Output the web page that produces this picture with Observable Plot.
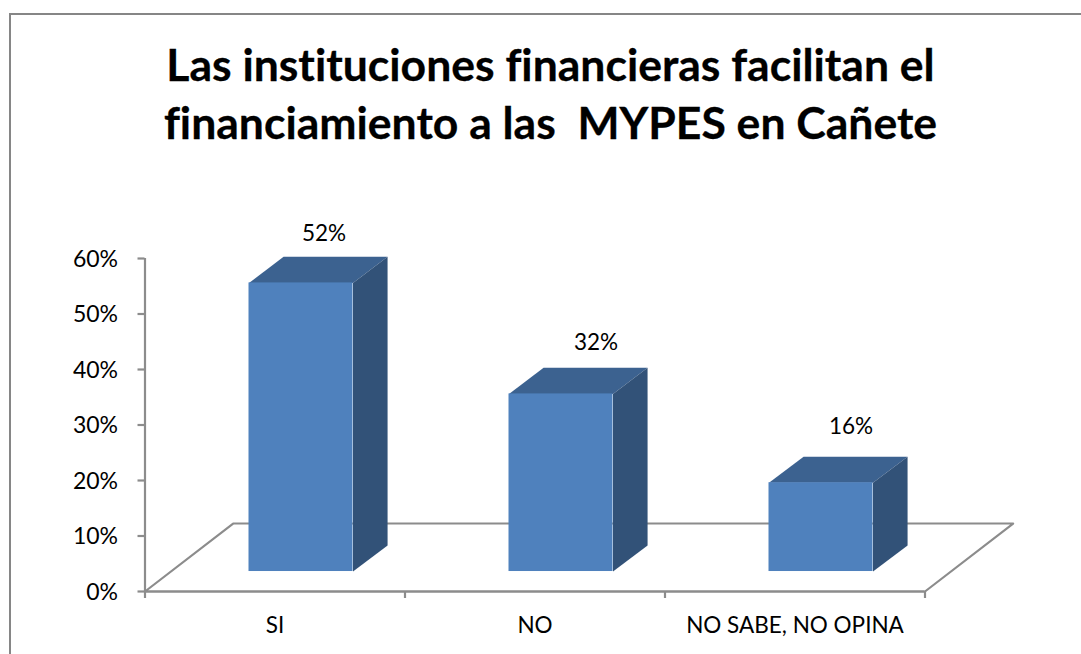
<!DOCTYPE html>
<html>
<head>
<meta charset="utf-8">
<script src="https://cdn.jsdelivr.net/npm/d3@7"></script>
<script src="https://cdn.jsdelivr.net/npm/@observablehq/plot@0.6"></script>
<style>
  html, body { margin: 0; padding: 0; background: #fff; overflow: hidden; }
  #page { position: relative; width: 1081px; height: 654px; overflow: hidden; font-family: Lato, sans-serif; font-variant-ligatures: none; }
  #frame { position: absolute; left: 9px; top: 13px; right: -10px; bottom: -10px; border: 2px solid #868686; }
  #title { position: absolute; left: 0; top: 35px; width: 1101px; text-align: center;
           font: 700 44.5px/58px Lato, sans-serif; color: #000; white-space: pre; font-variant-ligatures: none;
           -webkit-text-stroke: 0.3px #000; }
  #chart { position: absolute; left: 0; top: 190px; }
  #chart svg { display: block; }
</style>
</head>
<body>
<div id="page">
  <div id="frame"></div>
  <div id="title"></div>
  <div id="chart"></div>
</div>
<script>
const titleLines = ["Las instituciones financieras facilitan el", "financiamiento a las  MYPES en Cañete"];
const categories = ["SI", "NO", "NO SABE, NO OPINA"];
const values = [52, 32, 16];
const yTicks = [0, 10, 20, 30, 40, 50, 60];

// 3D projection expressed in scale units (categories on x, percent on y)
const floorDx = 0.339, floorDy = 12.25;
const barLift = 3.6, barShift = 0.1, barW = 0.4, depthDx = 0.133, depthDy = 4.7;
const nudgeX = [23, 35, 30], nudgeY = [-49, -51, -56];

document.getElementById("title").textContent = titleLines.join("\n");

const bars = categories.map((c, i) => {
  const x1 = i + 0.5 - barW / 2 + barShift, x2 = x1 + barW;
  const y1 = barLift, y2 = barLift + values[i];
  return {c, i, x1, x2, y1, y2, mid: (x1 + x2) / 2};
});
const topFace = bars.flatMap(b => [
  [b.x1, b.y2], [b.x1 + depthDx, b.y2 + depthDy], [b.x2 + depthDx, b.y2 + depthDy], [b.x2, b.y2]
].map(([x, y]) => ({x, y, z: b.c})));
const sideFace = bars.flatMap(b => [
  [b.x2, b.y1], [b.x2 + depthDx, b.y1 + depthDy], [b.x2 + depthDx, b.y2 + depthDy], [b.x2, b.y2]
].map(([x, y]) => ({x, y, z: b.c})));
const n = categories.length;
const floor = [[0, 0], [floorDx, floorDy], [n + floorDx, floorDy], [n, 0], [0, 0]].map(([x, y]) => ({x, y}));

const grey = "#8c8c8c";
const sw = 2.2;
const plot = Plot.plot({
  width: 1081, height: 464,
  marginLeft: 144.5, marginRight: 156.5, marginTop: 68, marginBottom: 63,
  style: {fontFamily: "Lato, sans-serif", background: "transparent", overflow: "visible", fontVariantLigatures: "none"},
  x: {type: "linear", domain: [0, n], axis: null},
  y: {domain: [0, 60], axis: null},
  marks: [
    Plot.line(floor, {x: "x", y: "y", stroke: grey, strokeWidth: sw}),
    Plot.ruleX([0], {y1: 0, y2: 60, stroke: grey, strokeWidth: sw}),
    Plot.axisY({
      ticks: yTicks, tickSize: 7, tickFormat: () => "",
      stroke: grey, strokeWidth: sw, strokeOpacity: 1, label: null
    }),
    Plot.axisY({
      ticks: yTicks, tickSize: 0, tickPadding: 27, tickFormat: d => d + "%",
      color: "#000", fontSize: 23, dy: 1, label: null
    }),
    Plot.axisX({
      ticks: d3.range(n + 1), tickSize: 7, tickFormat: () => "",
      stroke: grey, strokeWidth: sw, strokeOpacity: 1, label: null
    }),
    Plot.ruleY([0], {stroke: grey, strokeWidth: sw}),
    Plot.line(topFace, {x: "x", y: "y", z: "z", fill: "#3c6290", stroke: null, curve: "linear-closed"}),
    Plot.line(sideFace, {x: "x", y: "y", z: "z", fill: "#325278", stroke: null, curve: "linear-closed"}),
    Plot.rect(bars, {x1: "x1", x2: "x2", y1: "y1", y2: "y2", fill: "#4f81bd"}),
    ...bars.map(b => Plot.text([b], {
      x: "mid", y: "y2", text: d => values[d.i] + "%",
      dx: nudgeX[b.i], dy: nudgeY[b.i], fontSize: 22.5, fill: "#000"
    })),
    Plot.text(categories, {
      x: (d, i) => i + 0.5, y: 0, text: d => d, dy: 34, fontSize: 22.5, fill: "#000"
    })
  ]
});
document.getElementById("chart").appendChild(plot);
</script>
</body>
</html>
